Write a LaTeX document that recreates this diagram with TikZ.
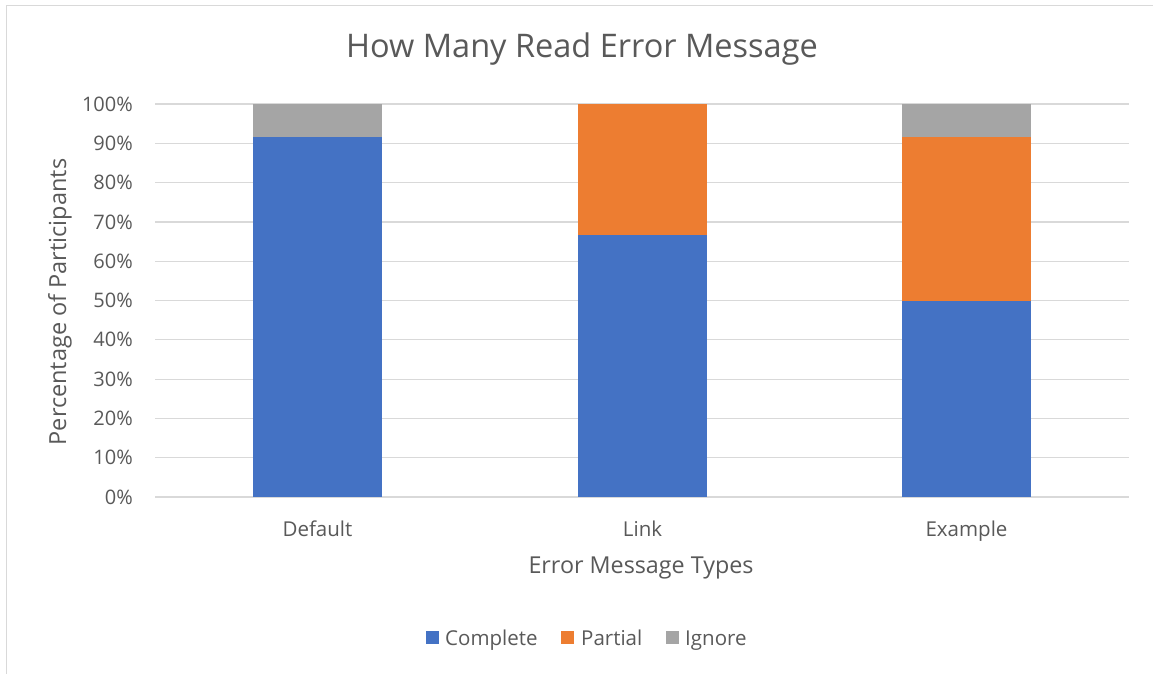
\documentclass[tikz,border=0pt]{standalone}
\usepackage{fontspec}
\setmainfont{Open Sans}
\definecolor{cblue}{HTML}{4472C4}
\definecolor{corange}{HTML}{ED7D31}
\definecolor{cgray}{HTML}{A5A5A5}
\definecolor{grid}{HTML}{D9D9D9}
\definecolor{txt}{HTML}{595959}
\definecolor{frame}{HTML}{D9D9D9}
\begin{document}
\begin{tikzpicture}[x=1pt,y=-1pt,
  tick/.style={anchor=east,text=txt,font=\fontsize{20}{24}\selectfont,inner sep=0pt},
  cat/.style={anchor=base,text=txt,font=\fontsize{20.5}{24}\selectfont,inner sep=0pt},
  legtext/.style={anchor=base west,text=txt,font=\fontsize{20.5}{24}\selectfont,inner sep=0pt},
  gridline/.style={draw=grid,line width=1.2pt}]
\useasboundingbox (0,0) rectangle (1153,674);
\fill[white] (0,0) rectangle (1153,674);
% outer frame (top and left visible)
\draw[frame,line width=1pt] (6,674) -- (6,5.5) -- (1153,5.5);
% title
\node[text=txt,font=\fontsize{32.5}{38}\selectfont,inner sep=0pt] (title) at (582,49) {How Many Read Error Message};
% gridlines and ticks
\foreach \i in {0,...,10}{
  \pgfmathsetmacro{\yy}{497-39.3*\i}
  \draw[gridline] (155,\yy) -- (1129,\yy);
  \pgfmathtruncatemacro{\pc}{10*\i}
  \node[tick] (t\i) at (133,\yy) {\pc\%};
}
% bars: 0% at 497, 100% at 104 -> 3.93 per %
% Default
\fill[cblue] (253,497) rectangle (382,{497-3.93*91.667});
\fill[cgray] (253,{497-3.93*91.667}) rectangle (382,104);
% Link
\fill[cblue] (578,497) rectangle (707,{497-3.93*66.667});
\fill[corange] (578,{497-3.93*66.667}) rectangle (707,104);
% Example
\fill[cblue] (902,497) rectangle (1031,{497-3.93*50});
\fill[corange] (902,{497-3.93*50}) rectangle (1031,{497-3.93*91.667});
\fill[cgray] (902,{497-3.93*91.667}) rectangle (1031,104);
% category labels
\node[cat] (c1) at (317.5,536.5) {Default};
\node[cat] (c2) at (642.5,536.5) {Link};
\node[cat] (c3) at (966.5,536.5) {Example};
% axis titles
\node[text=txt,font=\fontsize{23.3}{28}\selectfont,inner sep=0pt] (xt) at (641,568) {Error Message Types};
\node[text=txt,font=\fontsize{23.5}{28}\selectfont,inner sep=0pt,rotate=90] (yt) at (60,302) {Percentage of Participants};
% legend
\fill[cblue] (426,631) rectangle (439,644);
\node[legtext] (l1) at (445,645) {Complete};
\fill[corange] (561,631) rectangle (574,644);
\node[legtext] (l2) at (581,645) {Partial};
\fill[cgray] (666,631) rectangle (679,644);
\node[legtext] (l3) at (685,645) {Ignore};
\end{tikzpicture}
\end{document}
